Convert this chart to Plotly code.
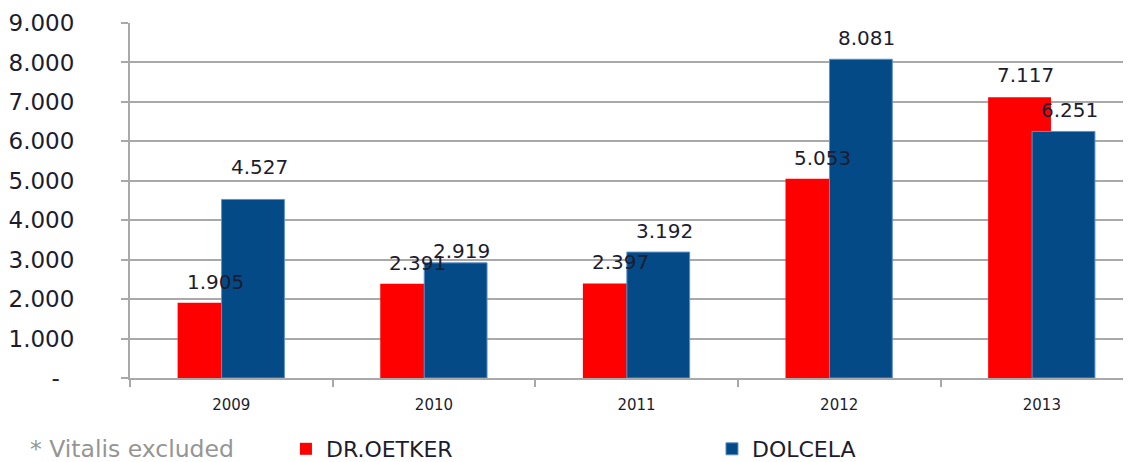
import plotly.graph_objects as go

years = ["2009", "2010", "2011", "2012", "2013"]
dr_oetker = [1905, 2391, 2397, 5053, 7117]
dolcela = [4527, 2919, 3192, 8081, 6251]
ytick_vals = [0, 1000, 2000, 3000, 4000, 5000, 6000, 7000, 8000, 9000]

RED = "#ff0000"
BLUE = "#034a86"
TXT = "#1c1c30"
GRID = "#a9a9a9"

# style: bar geometry in category units (Excel-like overlap)
BAR_W = 0.31
RED_OFF = -0.265
BLUE_OFF = -0.048
# style: label vertical shifts (px)
red_dy = [21, 21, 21, 21, 22]
blue_dy = [32, 12, 21, 21, 21]


def fmt(v):
    return f"{v:,}".replace(",", ".")


fig = go.Figure()
fig.add_trace(go.Bar(
    x=years, y=dr_oetker, name="DR.OETKER",
    marker=dict(color=RED, line=dict(width=0)),
    width=BAR_W, offset=RED_OFF, legend="legend",
))
fig.add_trace(go.Bar(
    x=years, y=dolcela, name="DOLCELA",
    marker=dict(color=BLUE, line=dict(color="#5f90c8", width=1)),
    width=BAR_W, offset=BLUE_OFF, legend="legend2",
))

annotations = []
for i, v in enumerate(dr_oetker):
    annotations.append(dict(
        x=i + RED_OFF + BAR_W / 2, y=v, xref="x", yref="y",
        text=fmt(v), showarrow=False, xshift=6, yshift=red_dy[i],
        yanchor="middle", font=dict(family="DejaVu Sans", size=20, color=TXT),
    ))
for i, v in enumerate(dolcela):
    annotations.append(dict(
        x=i + BLUE_OFF + BAR_W / 2, y=v, xref="x", yref="y",
        text=fmt(v), showarrow=False, xshift=6, yshift=blue_dy[i],
        yanchor="middle", font=dict(family="DejaVu Sans", size=20, color=TXT),
    ))

annotations.append(dict(
    x=-0.102, y=-0.2, xref="paper", yref="paper",
    xanchor="left", yanchor="middle", showarrow=False,
    text="* Vitalis excluded",
    font=dict(family="DejaVu Sans", size=23.5, color="#959595"),
))

ytick_text = [fmt(v) if v else "-\u00a0\u00a0" for v in ytick_vals]

legend_common = dict(
    orientation="h", y=-0.2, xanchor="left", yanchor="middle",
    font=dict(family="DejaVu Sans", size=22, color=TXT),
    bgcolor="rgba(0,0,0,0)", borderwidth=0,
)

# the page body adds an 8px offset, so the figure is sized to the visible area
fig.update_layout(
    width=1123, height=454,
    margin=dict(l=122, r=0, t=15, b=84, autoexpand=False),
    paper_bgcolor="white", plot_bgcolor="white",
    barmode="overlay",
    showlegend=True,
    legend=dict(x=0.1558, **legend_common),
    legend2=dict(x=0.5814, **legend_common),
    annotations=annotations,
    xaxis=dict(
        type="category", range=[-0.5, 4.44], automargin=False,
        showline=True, linecolor=GRID, linewidth=2,
        ticks="outside", tickson="boundaries", ticklen=7, tickcolor=GRID, tickwidth=2,
        tickfont=dict(family="DejaVu Sans", size=15, color=TXT),
        ticklabelstandoff=12,
        showgrid=False, zeroline=False,
    ),
    yaxis=dict(
        range=[0, 9000], tickvals=ytick_vals, ticktext=ytick_text, automargin=False,
        showline=True, linecolor=GRID, linewidth=2,
        ticks="outside", ticklen=7, tickcolor=GRID, tickwidth=2,
        tickfont=dict(family="DejaVu Sans", size=23, color=TXT),
        ticklabelstandoff=42,
        showgrid=True, gridcolor=GRID, gridwidth=2, zeroline=False,
    ),
)

fig.write_html("out.html")
